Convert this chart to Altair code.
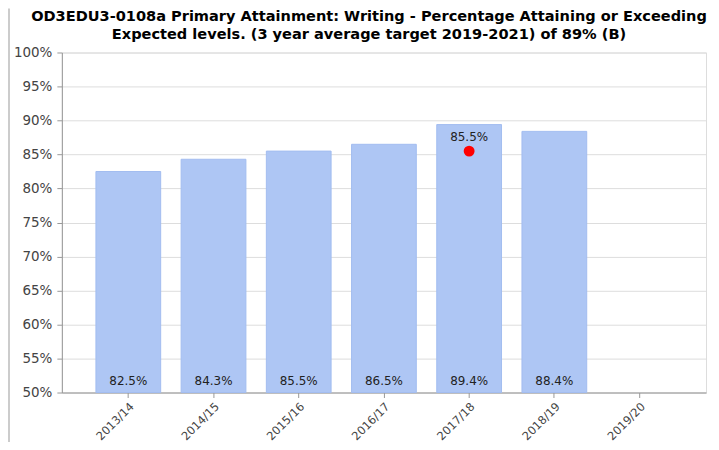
import altair as alt
import pandas as pd

years = ["2013/14", "2014/15", "2015/16", "2016/17", "2017/18", "2018/19", "2019/20"]
values = [82.5, 84.3, 85.5, 86.5, 89.4, 88.4, None]
marker_years = ["2017/18"]
marker_values = [85.5]
title_lines = [
    "OD3EDU3-0108a Primary Attainment: Writing - Percentage Attaining or Exceeding",
    "Expected levels. (3 year average target 2019-2021) of 89% (B)",
]

W, H = 646, 341

df = pd.DataFrame({"year": years, "value": values})
bars_df = df.dropna().copy()
bars_df["label"] = bars_df["value"].map(lambda v: f"{v:.1f}%")
bars_df["base"] = 50

mk = pd.DataFrame({"year": marker_years, "value": marker_values})
mk["label"] = mk["value"].map(lambda v: f"{v:.1f}%")

xscale = alt.Scale(domain=years, paddingInner=0.24, paddingOuter=0.4)
yscale = alt.Scale(domain=[50, 100], nice=False, zero=False)

xaxis = alt.Axis(
    labelAngle=-45,
    labelFont="DejaVu Sans",
    labelFontSize=11.5,
    labelColor="#444444",
    domainColor="#999999",
    tickColor="#999999",
    tickSize=5,
    labelPadding=3,
    labelOverlap=False,
    grid=False,
)
yaxis = alt.Axis(
    values=list(range(50, 101, 5)),
    labelExpr="datum.value + '%'",
    labelFont="DejaVu Sans",
    labelFontSize=13.5,
    labelColor="#444444",
    domainColor="#999999",
    tickColor="#999999",
    tickSize=5,
    grid=True,
    gridColor="#dddddd",
    labelPadding=5,
    labelOverlap=False,
)


def X():
    return alt.X("year:N", sort=years, scale=xscale, title=None, axis=xaxis)


def Y(field):
    return alt.Y(field, scale=yscale, title=None, axis=yaxis)


bars = alt.Chart(bars_df).mark_bar(
    color="#aec6f4", stroke="#a3bdf0", strokeWidth=1
).encode(x=X(), y=Y("value:Q"), y2=alt.Y2("base:Q"))

bar_labels = alt.Chart(bars_df).mark_text(
    font="DejaVu Sans", fontSize=12, color="#222222", dy=-12
).encode(x=X(), y=Y("base:Q"), text="label:N")

axis_layer = alt.Chart(df).mark_point(opacity=0).encode(x=X(), y=Y("value:Q"))

dot = alt.Chart(mk).mark_circle(color="#ff0000", size=120, opacity=1).encode(
    x=X(), y=Y("value:Q")
)
dot_label = alt.Chart(mk).mark_text(
    font="DejaVu Sans", fontSize=12, color="#222222", dy=-14
).encode(x=X(), y=Y("value:Q"), text="label:N")

border = alt.Chart(pd.DataFrame({"a": [0]})).mark_rule(
    color="#cccccc", strokeWidth=2
).encode(x=alt.value(-53), y=alt.value(-44), y2=alt.value(H + 60))

chart = (
    alt.layer(axis_layer, bars, bar_labels, dot, dot_label, border)
    .properties(
        width=W,
        height=H,
        autosize=alt.AutoSizeParams(type="none"),
        padding={"left": 54, "top": 44, "right": 5, "bottom": 49},
        title=alt.TitleParams(
            text=title_lines,
            font="DejaVu Sans",
            fontSize=14.6,
            fontWeight="bold",
            color="#000000",
            lineHeight=18,
            anchor="middle",
            frame="group",
            dx=-15,
            offset=-34,
        ),
    )
    .configure_view(strokeWidth=0)
    .configure(background="white")
)

chart.save("out.html", embed_options={"renderer": "svg", "actions": False})
